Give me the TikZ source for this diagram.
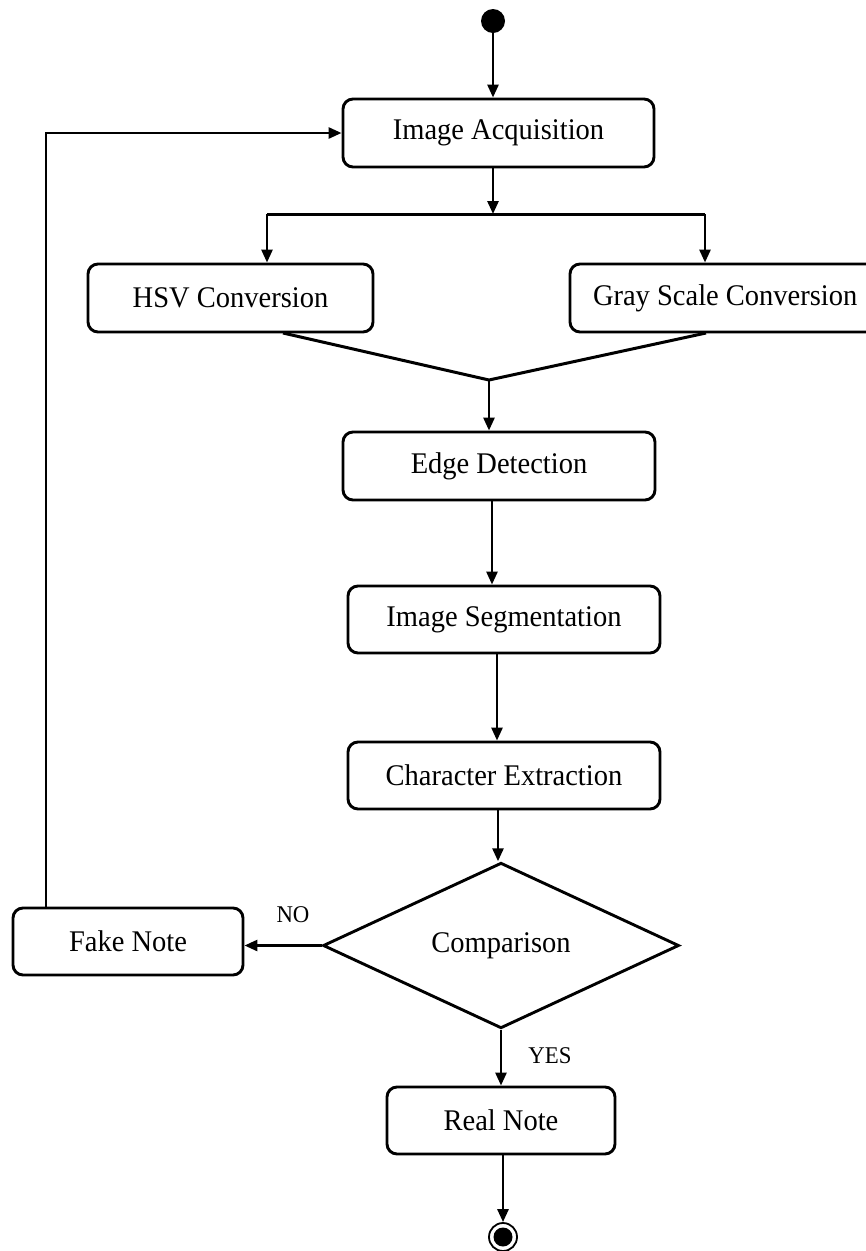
\documentclass[tikz,border=0pt]{standalone}
\usepackage{fontspec}
\setmainfont[FakeStretch=0.95]{Liberation Serif}
\usetikzlibrary{arrows.meta,shapes.geometric,calc}

\tikzset{
  activity/.style={draw, line width=2.9pt, rounded corners=10pt, inner sep=0pt,
    font=\fontsize{30}{34}\selectfont},
  decision/.style={draw, diamond, line width=2.9pt, inner sep=0pt,
    font=\fontsize{30}{34}\selectfont},
  flow/.style={line width=2.7pt, -{Triangle[length=13pt,width=11pt]}},
  plainline/.style={line width=3pt},
  guard/.style={font=\fontsize{24}{27}\selectfont},
}

\begin{document}
\begin{tikzpicture}[x=1pt, y=-1pt]
  \useasboundingbox (0,0) rectangle (866,1251);

  % initial and final states
  \node[circle, fill=black, minimum size=24pt, inner sep=0pt] (start) at (493,21) {};
  \node[circle, draw, line width=1.8pt, minimum size=28pt, inner sep=0pt] (stop) at (503,1237) {};
  \node[circle, fill=black, minimum size=19pt, inner sep=0pt] (stopdot) at (503,1237) {};

  % activities
  \node[activity, minimum width=311pt, minimum height=68pt] (acq) at (498.5,133) {Image Acquisition};
  \node[activity, minimum width=285pt, minimum height=68pt] (hsv) at (230.5,298) {HSV Conversion};
  \node[activity, minimum width=310pt, minimum height=68pt] (gray) at (725,298) {\makebox[310pt][l]{\hspace*{23pt}Gray Scale Conversion}};
  \node[activity, minimum width=312pt, minimum height=68pt] (edge) at (499,466) {Edge Detection};
  \node[activity, minimum width=312pt, minimum height=67pt] (seg) at (504,619.5) {Image Segmentation};
  \node[activity, minimum width=312pt, minimum height=67pt] (chr) at (504,775.5) {Character Extraction};
  \node[decision, minimum width=356pt, minimum height=137pt] (cmp) at (501,945.5) {Comparison};
  \node[activity, minimum width=230pt, minimum height=67pt] (fake) at (128,941.5) {Fake Note};
  \node[activity, minimum width=228pt, minimum height=67pt] (real) at (501,1120.5) {Real Note};

  % fork and join points
  \coordinate (forkmid) at (493,214);
  \coordinate (forkl) at (267,214);
  \coordinate (forkr) at (705,214);
  \coordinate (joinl) at (283,333);
  \coordinate (joinr) at (706,333);
  \coordinate (join) at (489,380);
  \coordinate (loop) at (46,0);

  % exit points of the straight vertical connectors
  \coordinate (acqout) at ([xshift=-5.5pt]acq.south);
  \coordinate (edgeout) at ([xshift=-7pt]edge.south);
  \coordinate (segout) at ([xshift=-7pt]seg.south);
  \coordinate (chrout) at ([xshift=-6pt]chr.south);
  \coordinate (realout) at ([xshift=2pt]real.south);

  % main flow
  \draw[flow] (start) -- (acq.north -| start);
  \draw[flow] (acqout) -- (forkmid);
  \draw[plainline] (forkl) -- (forkr);
  \draw[flow] (forkl) -- (forkl |- hsv.north);
  \draw[flow] (forkr) -- (forkr |- gray.north);
  \draw[plainline, line join=round] (joinl) -- (join) -- (joinr);
  \draw[flow] (join) -- (join |- edge.north);
  \draw[flow] (edgeout) -- (edgeout |- seg.north);
  \draw[flow] (segout) -- (segout |- chr.north);
  \draw[flow] (chrout) -- (chrout |- cmp.north);
  \draw[flow] (cmp.west) -- (cmp.west -| fake.east);
  \draw[flow] (cmp.south) -- (real.north);
  \draw[flow] (realout) -- (stop.north);

  % loop back from the fake note
  \draw[flow] (fake.north -| loop) |- (acq.west);

  % guards
  \node[guard] (nolabel) at (293,915) {NO};
  \node[guard] (yeslabel) at (550,1056) {YES};
\end{tikzpicture}
\end{document}
